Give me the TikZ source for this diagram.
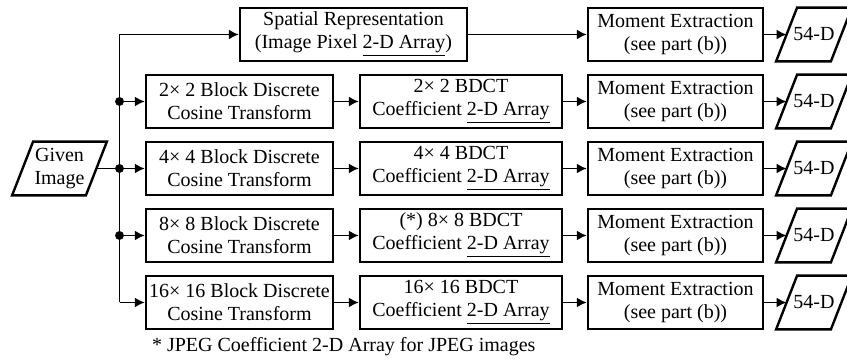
\documentclass[tikz,border=0pt]{standalone}
\usepackage{fontspec}
\setmainfont{Liberation Serif}
\usetikzlibrary{arrows.meta}

\tikzset{
  txt/.style={font=\fontsize{10}{11.5}\selectfont},
  procbox/.style={txt, draw, line width=1.2pt, minimum height=26.5pt, inner sep=0.5pt, align=center},
  databox/.style={txt, minimum height=26.5pt, inner sep=0pt, align=center},
  flow/.style={line width=0.9pt, -{Latex[length=5pt,width=5pt]}},
}

\begin{document}
\begin{tikzpicture}[x=0.5pt,y=-0.5pt]
        \useasboundingbox (0,0) rectangle (847,362);
        % input and branch points
        \node[databox, minimum width=36.5pt] (given) at (59.5,168.5) {Given\\Image};
        \coordinate (ttop) at (119.5,34.5);
        \coordinate (tbot) at (119.5,302.5);
        \coordinate (j2) at (119.5,101.5);
        \coordinate (j4) at (119.5,168.5);
        \coordinate (j8) at (119.5,235.5);
        % first column
        \node[procbox, minimum width=113.5pt] (spatial) at (353.5,34.5) {Spatial Representation\\(Image Pixel \underline{2-D Array})};
        \node[procbox, minimum width=93.5pt] (dct2) at (239.5,101.5) {2× 2 Block Discrete\\Cosine Transform};
        \node[procbox, minimum width=93.5pt] (dct4) at (239.5,168.5) {4× 4 Block Discrete\\Cosine Transform};
        \node[procbox, minimum width=93.5pt] (dct8) at (239.5,235.5) {8× 8 Block Discrete\\Cosine Transform};
        \node[procbox, minimum width=93.5pt] (dct16) at (239.5,302.5) {16× 16 Block Discrete\\Cosine Transform};
        % coefficient arrays
        \node[procbox, minimum width=101pt] (coef2) at (461,101.5) {2× 2 BDCT\\Coefficient \underline{2-D Array}};
        \node[procbox, minimum width=101pt] (coef4) at (461,168.5) {4× 4 BDCT\\Coefficient \underline{2-D Array}};
        \node[procbox, minimum width=101pt] (coef8) at (461,235.5) {(*) 8× 8 BDCT\\Coefficient \underline{2-D Array}};
        \node[procbox, minimum width=101pt] (coef16) at (461,302.5) {16× 16 BDCT\\Coefficient \underline{2-D Array}};
        % moments and features
        \node[procbox, minimum width=87.5pt] (mom1) at (675.5,34.5) {Moment Extraction\\(see part (b))};
        \node[procbox, minimum width=87.5pt] (mom2) at (675.5,101.5) {Moment Extraction\\(see part (b))};
        \node[procbox, minimum width=87.5pt] (mom3) at (675.5,168.5) {Moment Extraction\\(see part (b))};
        \node[procbox, minimum width=87.5pt] (mom4) at (675.5,235.5) {Moment Extraction\\(see part (b))};
        \node[procbox, minimum width=87.5pt] (mom5) at (675.5,302.5) {Moment Extraction\\(see part (b))};
        \node[databox, minimum width=27pt] (feat1) at (814,34.5) {54-D};
        \node[databox, minimum width=27pt] (feat2) at (814,101.5) {54-D};
        \node[databox, minimum width=27pt] (feat3) at (814,168.5) {54-D};
        \node[databox, minimum width=27pt] (feat4) at (814,235.5) {54-D};
        \node[databox, minimum width=27pt] (feat5) at (814,302.5) {54-D};
        \node[txt, anchor=west] (note) at (145,347) {* JPEG Coefficient 2-D Array for JPEG images};
        % parallelogram outlines of the data nodes
        \foreach \d in {given,feat1,feat2,feat3,feat4,feat5}
          \draw[line width=1.2pt] ([xshift=-5.25pt]\d.south west) -- ([xshift=-5.25pt]\d.south east)
            -- ([xshift=5.25pt]\d.north east) -- ([xshift=5.25pt]\d.north west) -- cycle;
        % connectors
        \draw[line width=0.9pt] (given.east) -- (j4);
        \draw[flow] (tbot) -- (ttop) -- (spatial.west);
        \draw[flow] (tbot) -- (dct16.west);
        \draw[flow] (j2) -- (dct2.west);
        \draw[flow] (j4) -- (dct4.west);
        \draw[flow] (j8) -- (dct8.west);
        \filldraw[black] (j2) circle (2pt);
        \filldraw[black] (j4) circle (2pt);
        \filldraw[black] (j8) circle (2pt);
        \draw[flow] (dct2) -- (coef2);
        \draw[flow] (dct4) -- (coef4);
        \draw[flow] (dct8) -- (coef8);
        \draw[flow] (dct16) -- (coef16);
        \draw[flow] (spatial) -- (mom1);
        \draw[flow] (coef2) -- (mom2);
        \draw[flow] (coef4) -- (mom3);
        \draw[flow] (coef8) -- (mom4);
        \draw[flow] (coef16) -- (mom5);
        \draw[flow] (mom1) -- (feat1);
        \draw[flow] (mom2) -- (feat2);
        \draw[flow] (mom3) -- (feat3);
        \draw[flow] (mom4) -- (feat4);
        \draw[flow] (mom5) -- (feat5);
    \end{tikzpicture}
\end{document}
